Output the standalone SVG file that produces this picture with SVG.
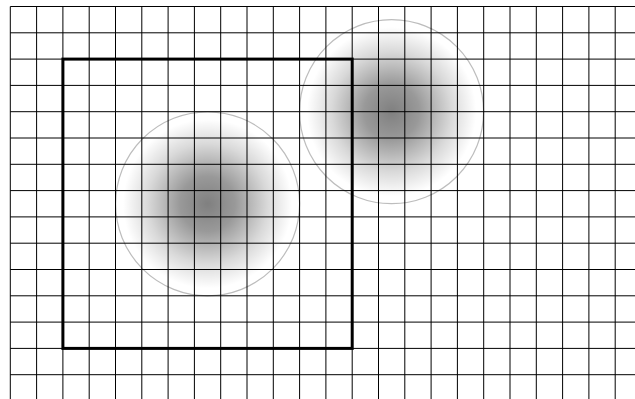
<svg xmlns="http://www.w3.org/2000/svg" width="635" height="399" viewBox="0 0 635 399">
  <defs>
    <radialGradient id="blob" cx="0.5" cy="0.5" r="0.5">
      <stop offset="0" stop-color="#000" stop-opacity="0.5"/>
      <stop offset="0.3" stop-color="#000" stop-opacity="0.4"/>
      <stop offset="0.65" stop-color="#000" stop-opacity="0.15"/>
      <stop offset="0.92" stop-color="#000" stop-opacity="0"/>
    </radialGradient>
    <style>
      .grid { stroke: #000; stroke-width: 1; fill: none; }
      .ring { stroke: #bdbdbd; stroke-width: 1.2; fill: none; }
      .box { stroke: #000; stroke-width: 3; fill: none; }
    </style>
  </defs>
  <rect width="635" height="399" fill="#fff"/>
  <g id="blob1">
    <circle cx="207.6" cy="203.8" r="92" fill="url(#blob)"/>
    <circle class="ring" cx="207.6" cy="203.8" r="92"/>
  </g>
  <g id="blob2">
    <circle cx="391.6" cy="111.7" r="92" fill="url(#blob)"/>
    <circle class="ring" cx="391.6" cy="111.7" r="92"/>
  </g>
  <g id="grid" class="grid">
    <path d="M10.3 6.5V399 M36.6 6.5V399 M62.9 6.5V399 M89.2 6.5V399 M115.5 6.5V399 M141.8 6.5V399 M168.1 6.5V399 M194.4 6.5V399 M220.7 6.5V399 M247.0 6.5V399 M273.3 6.5V399 M299.6 6.5V399 M325.9 6.5V399 M352.2 6.5V399 M378.5 6.5V399 M404.8 6.5V399 M431.1 6.5V399 M457.4 6.5V399 M483.7 6.5V399 M510.0 6.5V399 M536.3 6.5V399 M562.6 6.5V399 M588.9 6.5V399 M615.2 6.5V399"/>
    <path d="M10.3 6.5H635 M10.3 32.8H635 M10.3 59.1H635 M10.3 85.4H635 M10.3 111.7H635 M10.3 138.0H635 M10.3 164.3H635 M10.3 190.6H635 M10.3 216.9H635 M10.3 243.2H635 M10.3 269.5H635 M10.3 295.8H635 M10.3 322.1H635 M10.3 348.4H635 M10.3 374.7H635"/>
  </g>
  <g id="square">
    <rect class="box" x="62.9" y="59.1" width="289.3" height="289.3"/>
  </g>
</svg>
